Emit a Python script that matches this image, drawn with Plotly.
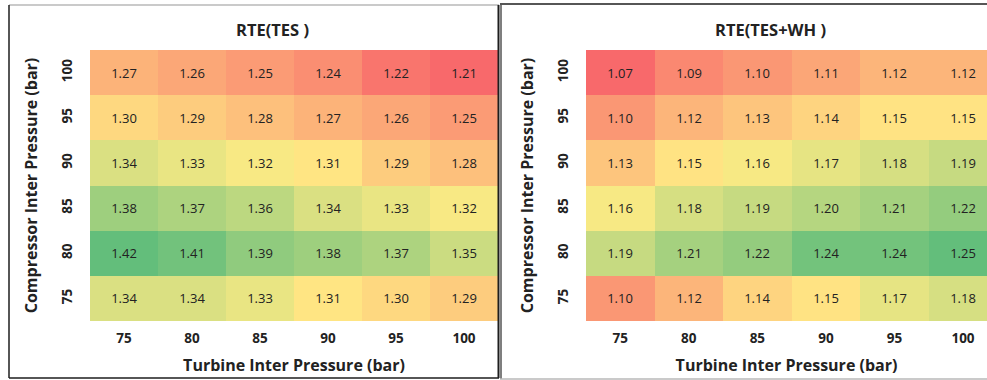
import numpy as np
import plotly.graph_objects as go

# ---------------- data ----------------
turbine_pressure = ["75", "80", "85", "90", "95", "100"]      # x categories
compressor_pressure = ["75", "80", "85", "90", "95", "100"]   # y categories (bottom -> top)

# rows follow compressor_pressure order (75 at bottom ... 100 at top)
rte_tes = [
    [1.34, 1.34, 1.33, 1.31, 1.30, 1.29],
    [1.42, 1.41, 1.39, 1.38, 1.37, 1.35],
    [1.38, 1.37, 1.36, 1.34, 1.33, 1.32],
    [1.34, 1.33, 1.32, 1.31, 1.29, 1.28],
    [1.30, 1.29, 1.28, 1.27, 1.26, 1.25],
    [1.27, 1.26, 1.25, 1.24, 1.22, 1.21],
]
rte_tes_wh = [
    [1.10, 1.12, 1.14, 1.15, 1.17, 1.18],
    [1.19, 1.21, 1.22, 1.24, 1.24, 1.25],
    [1.16, 1.18, 1.19, 1.20, 1.21, 1.22],
    [1.13, 1.15, 1.16, 1.17, 1.18, 1.19],
    [1.10, 1.12, 1.13, 1.14, 1.15, 1.15],
    [1.07, 1.09, 1.10, 1.11, 1.12, 1.12],
]
titles = ["RTE(TES )", "RTE(TES+WH )"]
x_title = "Turbine Inter Pressure (bar)"
y_title = "Compressor Inter Pressure (bar)"

# ---------------- styling ----------------
W, H = 987, 380
FONT = "Open Sans"
RED, YELLOW, GREEN = "#F8696B", "#FFEB84", "#63BE7B"


def excel_scale(z):
    a = np.asarray(z, dtype=float)
    lo, hi, med = a.min(), a.max(), np.median(a)
    f = (med - lo) / (hi - lo)
    return [[0.0, RED], [f, YELLOW], [1.0, GREEN]], lo, hi


def px_x(p):
    return p / W


def px_y(p):
    return 1 - p / H


fig = go.Figure()
for i, z in enumerate([rte_tes, rte_tes_wh]):
    cs, lo, hi = excel_scale(z)
    fig.add_trace(go.Heatmap(
        z=z, x=turbine_pressure, y=compressor_pressure,
        colorscale=cs, zmin=lo, zmax=hi, showscale=False,
        texttemplate="%{z:.2f}",
        textfont=dict(family=FONT, size=13, color="#222"),
        xaxis="x" if i == 0 else "x2", yaxis="y" if i == 0 else "y2",
        hovertemplate="Turbine %{x} bar<br>Compressor %{y} bar<br>RTE %{z:.2f}<extra></extra>",
    ))

tickfont = dict(family=FONT, size=13.5, color="#222", weight="bold")
titlefont = dict(family=FONT, size=16, color="#222", weight="bold")
headfont = dict(family=FONT, size=16.5, color="#222", weight="bold")

common_x = dict(type="category", showgrid=False, zeroline=False, showline=False,
                ticks="outside", ticklen=5, tickcolor="rgba(0,0,0,0)",
                tickfont=tickfont, automargin=False,
                title=dict(text=x_title, font=titlefont, standoff=13))
common_y = dict(type="category", showgrid=False, zeroline=False, showline=False,
                ticks="outside", ticklen=12, tickcolor="rgba(0,0,0,0)",
                tickangle=-90, tickfont=tickfont, automargin=False,
                title=dict(text=y_title, font=titlefont, standoff=15))

ydom = [px_y(321), px_y(50)]
fig.update_layout(
    width=W, height=H, autosize=False,
    margin=dict(l=0, r=0, t=0, b=0),
    paper_bgcolor="white", plot_bgcolor="white",
    font=dict(family=FONT, color="#222"),
    xaxis=dict(domain=[px_x(90), px_x(498)], range=[-0.5, 5.5], anchor="y", **common_x),
    yaxis=dict(domain=ydom, range=[-0.5, 5.5], anchor="x", **common_y),
    xaxis2=dict(domain=[px_x(586), 1.0], range=[-0.5, 5.35], anchor="y2", **common_x),
    yaxis2=dict(domain=ydom, range=[-0.5, 5.5], anchor="x2", **common_y),
    showlegend=False,
)

# panel titles
for cx, t in [(272, titles[0]), (770, titles[1])]:
    fig.add_annotation(x=px_x(cx), y=px_y(29), xref="paper", yref="paper",
                       text=t, showarrow=False, xanchor="center", yanchor="middle",
                       font=headfont)

# panel borders
dark, light = "#1e1e1e", "#b8b8b8"
lines = [
    (9, 5, 499, 5, light, 1.5),      # left panel top
    (9, 5, 9, 378, dark, 1.5),       # left panel left
    (9, 378, 499, 378, dark, 1.5),   # left panel bottom
    (498.5, 5, 498.5, 378, dark, 2), # left panel right
    (500, 4, 987, 4, dark, 1.5),     # right panel top
    (501, 4, 501, 379, "#555", 1.5), # right panel left
    (500, 379, 987, 379, light, 1.5),# right panel bottom
]
for x0, y0, x1, y1, c, w in lines:
    fig.add_shape(type="line", xref="paper", yref="paper",
                  x0=px_x(x0), y0=px_y(y0), x1=px_x(x1), y1=px_y(y1),
                  line=dict(color=c, width=w))

fig.write_html("out.html", config={"displayModeBar": False},
               post_script="document.body.style.margin='0px';document.body.style.overflow='hidden';")
